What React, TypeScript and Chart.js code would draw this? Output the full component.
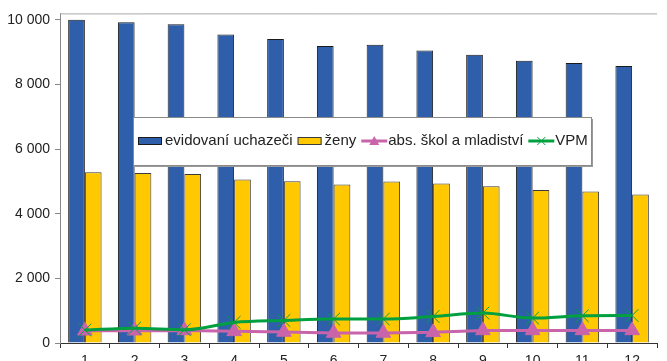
import React, { useEffect, useRef } from 'react';
import { Chart, registerables } from 'chart.js';

Chart.register(...registerables);

const categories = ['1', '2', '3', '4', '5', '6', '7', '8', '9', '10', '11', '12'];
const evidovani = [10000, 9929, 9867, 9547, 9405, 9189, 9229, 9053, 8921, 8736, 8665, 8572];
const zeny = [5282, 5261, 5230, 5057, 5005, 4903, 4995, 4934, 4850, 4737, 4686, 4594];
const absolventi = [380, 380, 390, 360, 340, 310, 310, 330, 390, 390, 390, 390];
const vpm = [400, 460, 410, 636, 697, 740, 740, 820, 925, 770, 842, 851];
const yTicks = [0, 2000, 4000, 6000, 8000, 10000];
const seriesNames = ['evidovaní uchazeči', 'ženy', 'abs. škol a mladiství', 'VPM'];

const BLUE = '#2f5fab';
const YELLOW = '#ffc800';
const PINK = '#c964aa';
const GREEN = '#00a040';
const FONT = '"Liberation Sans", Arial, sans-serif';

const fmt = (v: number) => String(v).replace(/\B(?=(\d{3})+(?!\d))/g, ' ');

const decorPlugin = {
  id: 'decor',
  afterDraw(chart: any) {
    const ctx = chart.ctx as CanvasRenderingContext2D;
    const ca = chart.chartArea;
    ctx.save();
    ctx.strokeStyle = '#a8a8a8';
    ctx.lineWidth = 1;
    ctx.beginPath();
    ctx.moveTo(ca.left, ca.top + 0.5);
    ctx.lineTo(ca.right, ca.top + 0.5);
    ctx.stroke();

    const bx = 133, by = 117, bw = 458, bh = 48;
    ctx.fillStyle = '#9a9a9a';
    ctx.fillRect(bx + 2, by + 2, bw, bh);
    ctx.fillStyle = '#ffffff';
    ctx.fillRect(bx, by, bw, bh);
    ctx.strokeStyle = '#8a8a8a';
    ctx.strokeRect(bx + 0.5, by + 0.5, bw, bh);

    ctx.font = '15px ' + FONT;
    ctx.fillStyle = '#222222';
    ctx.textBaseline = 'middle';
    const cy = 141;
    let x = 138;
    const rectItem = (fill: string, stroke: string, label: string) => {
      ctx.fillStyle = fill;
      ctx.fillRect(x, cy - 4, 24, 8);
      ctx.strokeStyle = stroke;
      ctx.lineWidth = 1;
      ctx.strokeRect(x + 0.5, cy - 3.5, 23, 7);
      ctx.fillStyle = '#222222';
      ctx.fillText(label, x + 27, cy);
      x += 27 + ctx.measureText(label).width + 5;
    };
    const lineItem = (color: string, marker: string, label: string) => {
      ctx.strokeStyle = color;
      ctx.lineWidth = 3;
      ctx.beginPath();
      ctx.moveTo(x, cy);
      ctx.lineTo(x + 26, cy);
      ctx.stroke();
      const mx = x + 13;
      if (marker === 'tri') {
        ctx.fillStyle = color;
        ctx.beginPath();
        ctx.moveTo(mx, cy - 5);
        ctx.lineTo(mx + 5, cy + 4);
        ctx.lineTo(mx - 5, cy + 4);
        ctx.closePath();
        ctx.fill();
      } else {
        ctx.lineWidth = 1;
        ctx.beginPath();
        ctx.moveTo(mx - 4, cy - 4);
        ctx.lineTo(mx + 4, cy + 4);
        ctx.moveTo(mx + 4, cy - 4);
        ctx.lineTo(mx - 4, cy + 4);
        ctx.stroke();
      }
      ctx.fillStyle = '#222222';
      ctx.fillText(label, x + 27, cy);
      x += 27 + ctx.measureText(label).width + 5;
    };
    rectItem(BLUE, '#1a1a1a', seriesNames[0]);
    rectItem(YELLOW, '#3a3a3a', seriesNames[1]);
    lineItem(PINK, 'tri', seriesNames[2]);
    lineItem(GREEN, 'x', seriesNames[3]);
    ctx.restore();
  },
};

export default function App() {
  const ref = useRef<HTMLCanvasElement | null>(null);
  useEffect(() => {
    document.body.style.margin = '0';
    document.body.style.overflow = 'hidden';
    if (!ref.current) return;
    const chart = new Chart(ref.current, {
      type: 'bar',
      data: {
        labels: categories,
        datasets: [
          {
            type: 'line',
            label: seriesNames[3],
            data: vpm,
            borderColor: GREEN,
            backgroundColor: GREEN,
            borderWidth: 3,
            pointStyle: 'crossRot',
            pointRadius: 9,
            pointBorderWidth: 1,
            pointBorderColor: GREEN,
            cubicInterpolationMode: 'monotone',
            order: 0,
          } as any,
          {
            type: 'line',
            label: seriesNames[2],
            data: absolventi,
            borderColor: PINK,
            backgroundColor: PINK,
            borderWidth: 3,
            pointStyle: 'triangle',
            pointRadius: 8.5,
            pointBorderWidth: 1,
            order: 1,
          } as any,
          {
            label: seriesNames[0],
            data: evidovani,
            backgroundColor: BLUE,
            borderColor: '#1a1a1a',
            borderWidth: 1,
            categoryPercentage: 0.672,
            barPercentage: 1,
            order: 2,
          },
          {
            label: seriesNames[1],
            data: zeny,
            backgroundColor: YELLOW,
            borderColor: '#3a3a3a',
            borderWidth: 1,
            categoryPercentage: 0.672,
            barPercentage: 1,
            order: 2,
          },
        ],
      },
      options: {
        responsive: false,
        animation: false,
        layout: { padding: { top: 12, left: 0, right: 0, bottom: 0 } },
        plugins: {
          legend: { display: false },
          tooltip: { enabled: false },
        },
        scales: {
          x: {
            offset: true,
            grid: {
              display: true,
              drawOnChartArea: false,
              drawTicks: true,
              tickLength: 5,
              color: '#333333',
              offset: true,
            },
            border: { display: true, color: '#333333', width: 1 },
            ticks: {
              font: { family: FONT, size: 14 },
              color: '#222222',
              padding: 5,
              maxRotation: 0,
            },
            afterFit: (scale: any) => {
              scale.height = 29;
            },
          } as any,
          y: {
            min: 0,
            max: 10200,
            grid: {
              display: true,
              drawOnChartArea: false,
              drawTicks: true,
              tickLength: 5,
              color: '#888888',
            },
            border: { display: true, color: '#888888', width: 1 },
            ticks: {
              includeBounds: false,
              font: { family: FONT, size: 14 },
              color: '#222222',
              padding: 5,
              callback: (v: any) => fmt(Number(v)),
            },
            afterBuildTicks: (axis: any) => {
              axis.ticks = yTicks.map((v) => ({ value: v }));
            },
            afterFit: (scale: any) => {
              scale.width = 60;
            },
          } as any,
        },
      },
      plugins: [decorPlugin],
    });
    return () => chart.destroy();
  }, []);
  return (
    <div style={{ width: 667, height: 361, overflow: 'hidden' }}>
      <canvas ref={ref} width={667} height={372} style={{ display: 'block' }} />
    </div>
  );
}
